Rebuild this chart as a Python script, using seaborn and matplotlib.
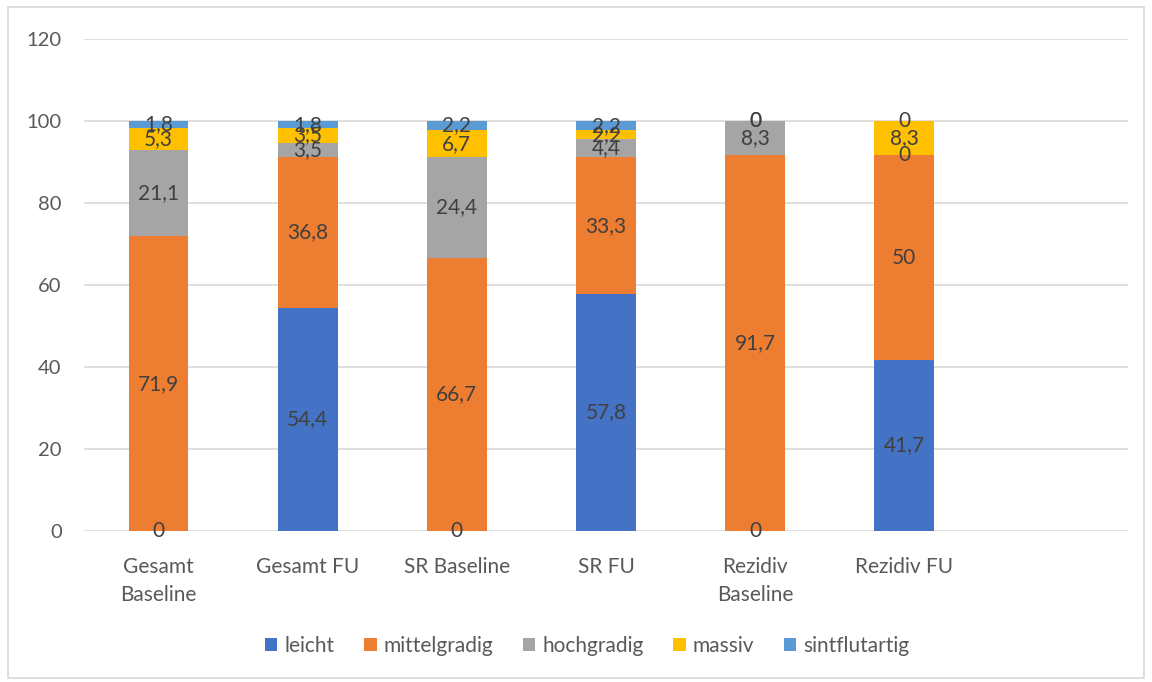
import numpy as np
import pandas as pd
import matplotlib
matplotlib.use("Agg")
import matplotlib.pyplot as plt
import seaborn as sns
from matplotlib.patches import Rectangle

kategorien = ["Gesamt\nBaseline", "Gesamt FU", "SR Baseline", "SR FU", "Rezidiv\nBaseline", "Rezidiv FU"]
stufen = ["leicht", "mittelgradig", "hochgradig", "massiv", "sintflutartig"]

leicht = [0, 54.4, 0, 57.8, 0, 41.7]
mittelgradig = [71.9, 36.8, 66.7, 33.3, 91.7, 50]
hochgradig = [21.1, 3.5, 24.4, 4.4, 8.3, 0]
massiv = [5.3, 3.5, 6.7, 2.2, 0, 8.3]
sintflutartig = [1.8, 1.8, 2.2, 2.2, 0, 0]

farben = ["#4472C4", "#ED7D31", "#A5A5A5", "#FFC000", "#5B9BD5"]

sns.set_theme(style="white")
plt.rcParams["font.family"] = ["Lato", "DejaVu Sans"]
textfarbe = "#595959"

df = pd.DataFrame({"kategorie": kategorien, "leicht": leicht, "mittelgradig": mittelgradig,
                   "hochgradig": hochgradig, "massiv": massiv, "sintflutartig": sintflutartig})

fig = plt.figure(figsize=(11.52, 6.82), dpi=100)
ax = fig.add_axes([0.0729, 0.2214, 0.9063, 0.7214])

reihenfolge = kategorien + [" "]
boden = np.zeros(len(kategorien))
for stufe, farbe in zip(stufen, farben):
    werte = df[stufe].to_numpy()
    sns.barplot(x=df["kategorie"], y=werte, order=reihenfolge, color=farbe, width=0.4,
                bottom=boden, label=stufe, ax=ax, saturation=1, edgecolor="none")
    cont = ax.containers[-1]
    ax.bar_label(cont, labels=[f"{v:g}".replace(".", ",") for v in werte],
                 label_type="center", fontsize=15, color="#404040")
    boden = boden + werte

ax.set_xlim(-0.5, 6.5)
ax.set_ylim(0, 120)
ax.set_yticks(range(0, 121, 20))
ax.yaxis.grid(True, color="#D9D9D9", linewidth=1.2)
ax.set_axisbelow(True)
for s in ax.spines.values():
    s.set_visible(False)
ax.set_xlabel("")
ax.set_ylabel("")
ax.tick_params(axis="y", labelsize=14.5, labelcolor=textfarbe, length=0, pad=16)
ax.tick_params(axis="x", labelsize=15, labelcolor=textfarbe, length=0, pad=19)
for lbl in ax.get_xticklabels():
    lbl.set_linespacing(1.45)

ax.legend(loc="center", bbox_to_anchor=(0.482, -0.234), ncol=5, frameon=False,
          fontsize=15, handlelength=0.6, handleheight=0.6, handletextpad=0.35,
          columnspacing=1.4, labelcolor=textfarbe)

fig.patches.append(Rectangle((8 / 1152, 4 / 682), 1136 / 1152, 671 / 682,
                             transform=fig.transFigure, fill=False,
                             edgecolor="#D9D9D9", linewidth=1.2))

fig.savefig("out.png", dpi=100)
